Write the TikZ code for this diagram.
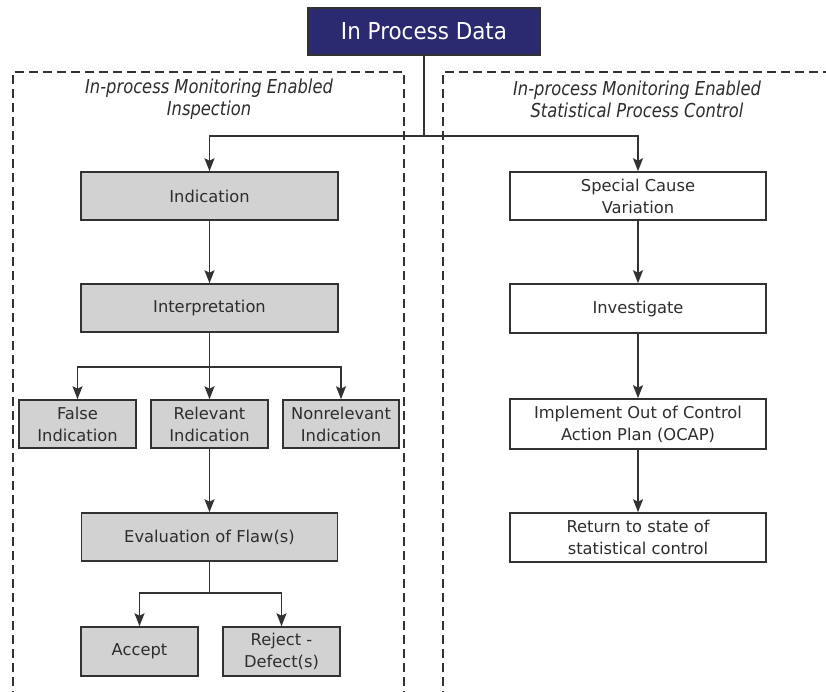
\documentclass[tikz,border=0pt]{standalone}
\usepackage{fontspec}
\setmainfont{DejaVu Sans}
\newfontfamily\titlefont{DejaVu Sans}[FakeStretch=0.92]
\newfontfamily\headfont{DejaVu Sans}[FakeStretch=0.85]
\usetikzlibrary{arrows.meta}
\definecolor{navy}{RGB}{43,42,112}
\definecolor{boxgray}{RGB}{210,210,210}
\definecolor{linegray}{RGB}{50,50,50}
\definecolor{txt}{RGB}{45,45,45}
\tikzset{
  box/.style={draw=linegray, line width=1.6pt, rectangle, inner sep=0pt, align=center,
    font=\fontsize{16.3}{22}\selectfont, text=txt},
  graybox/.style={box, fill=boxgray},
  whitebox/.style={box, fill=white},
  conn/.style={draw=linegray, line width=1.5pt},
  arr/.style={conn, -{Stealth[length=13pt,width=10pt,inset=2.5pt]}},
  dashbox/.style={draw=linegray, line width=1.3pt, dash pattern=on 9pt off 5pt},
  head/.style={align=center, text=txt, font=\headfont\itshape\fontsize{19.2}{22}\selectfont}
}
\begin{document}
\begin{tikzpicture}[x=1pt,y=-1pt]
\useasboundingbox (0,0) rectangle (826,691);
\clip (0,0) rectangle (826,691);
\fill[white] (0,0) rectangle (826,691);
% dashed regions
\draw[dashbox] (13,700) -- (13,72) -- (404,72) -- (404,700);
\draw[dashbox] (443,700) -- (443,72) -- (835,72);
\node[head] (hl) at (209,99) {In-process Monitoring Enabled\\Inspection};
\node[head] (hr) at (637,99) {In-process Monitoring Enabled\\Statistical Process Control};
% title
\node[box, fill=navy, text=white, minimum width=232pt, minimum height=47pt,
  font=\titlefont\fontsize{23.3}{26}\selectfont] (title) at (424,31.5) {In Process Data};
% left column
\node[graybox, minimum width=257pt, minimum height=48pt] (ind) at (209.5,196) {Indication};
\node[graybox, minimum width=257pt, minimum height=48pt] (intp) at (209.5,308) {Interpretation};
\node[graybox, minimum width=117pt, minimum height=48pt] (fal) at (77.5,424) {False\\Indication};
\node[graybox, minimum width=117pt, minimum height=48pt] (rel) at (209.5,424) {Relevant\\Indication};
\node[graybox, minimum width=116pt, minimum height=48pt] (nonr) at (341,424) {Nonrelevant\\Indication};
\node[graybox, minimum width=256pt, minimum height=48pt] (eval) at (209.5,537) {Evaluation of Flaw(s)};
\node[graybox, minimum width=117pt, minimum height=49pt] (acc) at (139.5,651.5) {Accept};
\node[graybox, minimum width=117pt, minimum height=49pt] (rej) at (281.5,651.5) {Reject -\\Defect(s)};
% right column
\node[whitebox, minimum width=256pt, minimum height=48pt] (spc) at (638,196) {Special Cause\\Variation};
\node[whitebox, minimum width=256pt, minimum height=49pt] (inv) at (638,308.5) {Investigate};
\node[whitebox, minimum width=256pt, minimum height=50pt] (imp) at (638,424) {Implement Out of Control\\Action Plan (OCAP)};
\node[whitebox, minimum width=256pt, minimum height=49pt] (ret) at (638,537.5) {Return to state of\\statistical control};
% connectors
\coordinate (tb) at (424,136);
\draw[conn] (title) -- (tb);
\draw[arr] (tb) -| (ind);
\draw[arr] (tb) -| (spc);
\draw[arr] (ind) -- (intp);
\coordinate (ib) at (209.5,367);
\draw[conn] (intp) -- (ib);
\draw[arr] (ib) -| (fal);
\draw[arr] (ib) -- (rel);
\draw[arr] (ib) -| (nonr);
\draw[arr] (rel) -- (eval);
\coordinate (eb) at (209.5,593);
\draw[conn] (eval) -- (eb);
\draw[arr] (eb) -| (acc);
\draw[arr] (eb) -| (rej);
\draw[arr] (spc) -- (inv);
\draw[arr] (inv) -- (imp);
\draw[arr] (imp) -- (ret);
\end{tikzpicture}
\end{document}
